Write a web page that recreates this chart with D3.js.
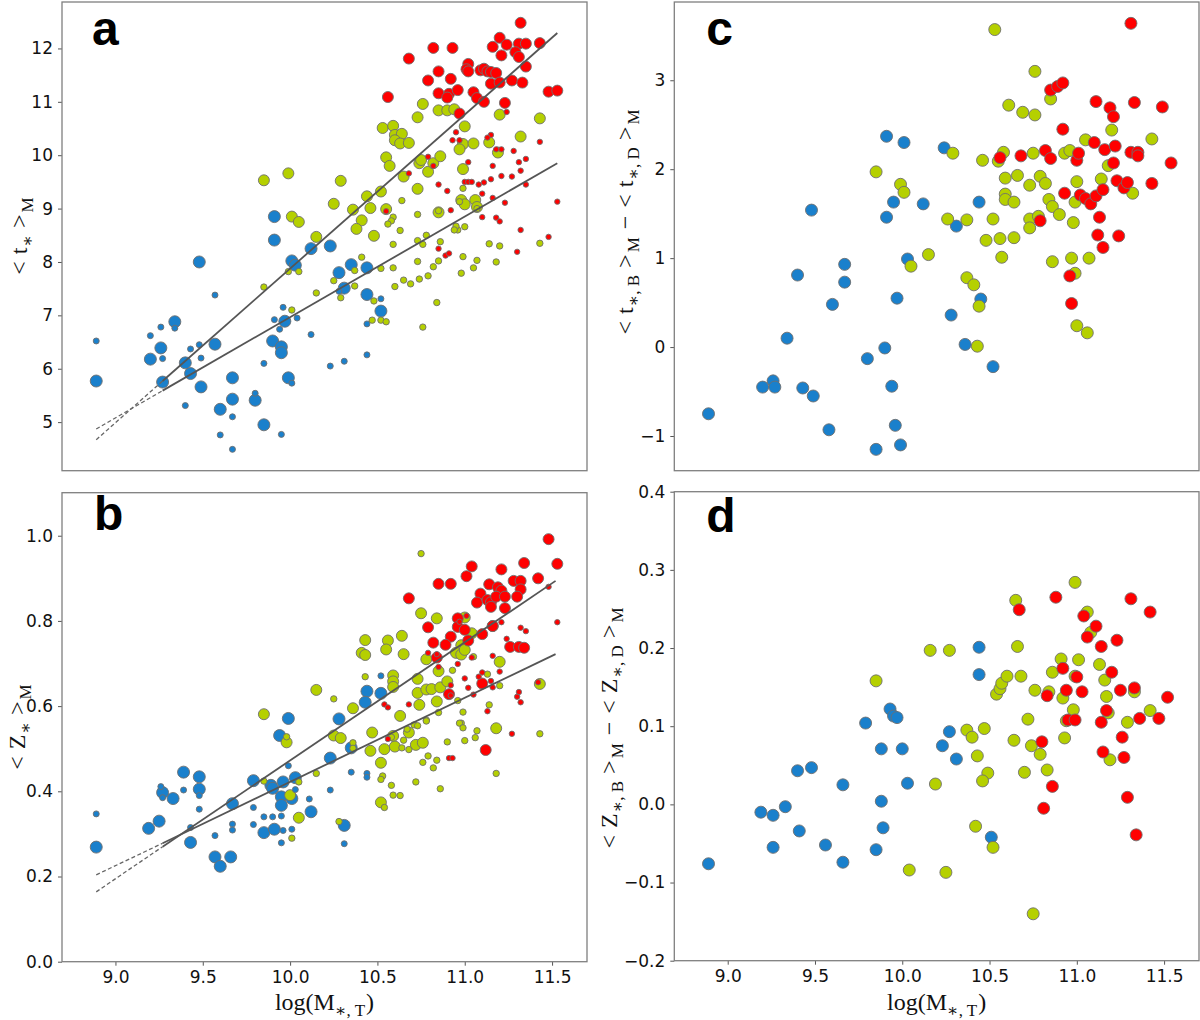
<!DOCTYPE html>
<html>
<head>
<meta charset="utf-8">
<script src="https://cdn.jsdelivr.net/npm/d3@7/dist/d3.min.js"></script>
<style>
body { margin: 0; background: #fff; }
</style>
</head>
<body>
<div id="chart"></div>
<script>

// ---- data: [log M, value] ----

// panel a, bulge ages (big markers)
var ageBulgeBlue = [[8.89,5.77],[9.20,6.18],[9.26,6.39],[9.34,6.88],[9.27,5.75],[9.40,6.11],[9.43,5.91],[9.49,5.66],[9.57,6.46],[9.60,5.24],[9.67,5.83],[9.67,5.43],[9.80,5.41],[9.85,4.95],[9.90,6.52],[9.95,6.41],[9.95,6.30],[9.99,5.83],[9.97,6.89],[9.91,8.41],[9.48,8.00],[10.01,8.02],[10.03,7.94],[10.12,8.25],[10.23,8.30],[10.28,7.80],[10.31,7.51],[10.35,7.95],[10.44,7.89],[10.44,7.39],[10.52,7.08],[9.91,8.85]];
var ageBulgeGreen = [[9.85,9.53],[9.99,9.66],[10.29,9.52],[10.01,8.85],[10.05,8.75],[10.15,8.47],[10.25,9.09],[10.36,8.98],[10.41,8.78],[10.38,8.62],[10.44,9.23],[10.46,9.01],[10.48,8.49],[10.52,9.32],[10.55,8.99],[10.65,9.60],[10.73,9.37],[10.74,9.85],[10.75,9.91],[10.79,9.69],[10.82,9.85],[10.86,9.98],[10.85,8.93],[10.55,9.96],[10.57,9.80],[10.53,10.51],[10.59,10.55],[10.60,10.38],[10.64,10.40],[10.60,10.28],[10.63,10.22],[10.68,10.23],[10.73,10.71],[10.76,10.96],[10.85,10.84],[10.90,10.84],[10.94,10.86],[11.00,10.54],[10.99,10.21],[10.97,10.11],[11.05,10.22],[10.99,9.74],[11.14,10.24],[11.19,10.05],[11.20,10.76],[11.32,10.35],[11.43,10.69],[10.98,9.16],[11.00,9.08],[11.06,9.16],[11.07,9.03]];
var ageBulgeRed = [[11.32,12.48],[11.20,12.20],[11.24,12.07],[11.16,12.03],[11.31,12.09],[11.35,12.09],[11.43,12.10],[10.82,12.01],[10.93,12.01],[10.68,11.81],[11.21,11.87],[11.29,11.93],[11.31,11.84],[11.35,11.66],[11.02,11.71],[11.01,11.61],[11.02,11.57],[11.09,11.59],[11.11,11.62],[11.13,11.57],[11.15,11.56],[11.18,11.54],[10.85,11.57],[10.92,11.43],[10.79,11.40],[11.15,11.34],[11.20,11.36],[11.27,11.40],[11.33,11.36],[10.85,11.16],[10.91,11.15],[10.96,11.22],[10.90,11.08],[11.05,11.18],[11.07,11.07],[11.11,11.00],[11.23,10.98],[10.56,11.09],[10.97,10.78],[11.48,11.19],[11.53,11.21]];

// panel a, disc ages (small markers)
var ageDiscBlue = [[8.89,6.52],[9.20,6.62],[9.26,6.78],[9.34,6.76],[9.27,6.19],[9.43,6.37],[9.48,6.45],[9.49,6.20],[9.57,7.38],[9.67,5.10],[9.60,4.76],[9.67,4.49],[9.40,5.31],[9.80,5.54],[9.85,6.10],[9.95,4.77],[10.01,5.73],[9.96,7.15],[9.91,6.92],[10.04,6.95],[9.94,6.74],[10.12,6.64],[10.23,6.05],[10.31,6.14],[10.44,6.26],[10.44,6.84],[10.52,7.31],[10.28,7.45]];
var ageDiscGreen = [[9.85,7.53],[9.99,7.82],[10.05,7.82],[10.15,7.42],[10.01,7.10],[10.25,7.65],[10.29,7.33],[10.37,7.55],[10.37,7.84],[10.41,8.09],[10.48,7.27],[10.47,6.91],[10.52,6.91],[10.55,6.88],[10.52,7.88],[10.59,7.89],[10.59,8.33],[10.60,7.54],[10.65,7.66],[10.69,7.59],[10.73,8.40],[10.73,8.01],[10.74,7.68],[10.76,6.78],[10.76,8.33],[10.78,8.50],[10.79,7.74],[10.82,7.91],[10.84,7.24],[10.85,8.02],[10.86,8.38],[10.96,8.60],[10.98,7.79],[10.99,8.10],[11.05,7.89],[11.07,8.03],[11.14,8.34],[11.18,8.00],[11.20,8.30],[11.43,8.35],[10.64,9.15],[10.59,8.84],[10.58,8.77],[10.56,8.71],[10.63,8.59],[10.73,8.89],[10.85,8.96],[10.99,9.38],[10.97,9.13],[10.95,8.67],[11.00,8.66],[10.94,8.60],[11.07,9.00]];
var ageDiscRed = [[11.24,10.81],[10.95,10.43],[11.15,10.38],[10.93,10.28],[10.97,10.28],[11.13,10.33],[11.18,10.11],[11.21,10.11],[11.28,10.08],[11.43,10.25],[11.35,9.93],[11.31,9.87],[11.16,9.80],[11.02,9.87],[10.79,9.97],[10.82,9.80],[10.68,9.66],[10.85,9.45],[11.00,9.50],[11.02,9.50],[11.04,9.50],[11.08,9.45],[11.11,9.49],[11.15,9.55],[11.21,9.61],[11.27,9.60],[11.32,9.71],[11.35,9.45],[10.90,9.33],[10.92,8.97],[11.10,9.28],[11.16,9.20],[11.23,9.11],[11.10,8.84],[11.18,8.83],[11.20,8.76],[11.32,8.60],[11.53,9.13],[11.48,8.47],[10.55,8.95],[10.85,8.25],[10.89,8.12],[10.91,8.16],[11.30,8.19]];

// panel b, bulge metallicities (big markers)
var metBulgeBlue = [[10.44,0.635],[10.52,0.630],[10.43,0.609],[10.28,0.570],[9.99,0.571],[9.94,0.531],[10.35,0.502],[10.23,0.478],[9.79,0.425],[9.96,0.422],[10.03,0.432],[9.89,0.414],[9.90,0.407],[9.67,0.371],[9.95,0.387],[10.01,0.383],[9.95,0.367],[10.12,0.352],[9.85,0.303],[9.91,0.311],[10.31,0.320],[9.39,0.445],[9.48,0.434],[9.48,0.405],[9.33,0.383],[9.27,0.397],[9.25,0.330],[9.19,0.313],[9.43,0.280],[8.89,0.269],[9.57,0.246],[9.60,0.224],[9.66,0.246]];
var metBulgeGreen = [[10.75,0.818],[10.84,0.806],[10.43,0.755],[10.41,0.725],[10.43,0.720],[10.56,0.754],[10.55,0.733],[10.64,0.765],[10.65,0.722],[11.00,0.808],[11.04,0.771],[10.98,0.743],[10.95,0.725],[10.98,0.721],[11.00,0.732],[11.16,0.788],[11.20,0.704],[10.78,0.710],[10.85,0.682],[10.59,0.672],[10.59,0.658],[10.59,0.645],[10.73,0.664],[10.73,0.631],[10.78,0.639],[10.81,0.640],[10.86,0.644],[10.90,0.658],[10.84,0.611],[10.74,0.603],[10.63,0.577],[10.36,0.595],[10.15,0.638],[9.85,0.581],[11.43,0.652],[11.18,0.548],[10.25,0.531],[10.29,0.525],[10.47,0.538],[10.59,0.530],[10.54,0.499],[10.60,0.505],[10.68,0.538],[10.72,0.509],[10.76,0.514],[10.46,0.495],[10.52,0.467],[10.05,0.338],[10.52,0.374],[9.98,0.515],[10.00,0.391]];
var metBulgeRed = [[11.48,0.992],[11.53,0.934],[11.34,0.936],[11.42,0.900],[11.21,0.921],[11.04,0.928],[11.01,0.905],[10.85,0.887],[10.92,0.887],[10.68,0.853],[11.14,0.886],[11.19,0.879],[11.21,0.871],[11.28,0.894],[11.32,0.894],[11.32,0.874],[11.30,0.857],[11.09,0.864],[11.07,0.843],[11.13,0.849],[11.15,0.844],[11.18,0.857],[11.23,0.857],[11.23,0.830],[11.15,0.833],[10.96,0.806],[10.96,0.786],[11.00,0.779],[10.79,0.785],[10.92,0.763],[10.89,0.744],[11.02,0.754],[11.10,0.769],[11.16,0.788],[10.82,0.749],[10.84,0.714],[11.26,0.739],[11.31,0.739],[11.34,0.737],[10.91,0.628],[11.10,0.653],[11.12,0.497]];

// panel b, disc metallicities (small markers)
var metDiscBlue = [[10.52,0.671],[8.89,0.347],[9.26,0.411],[9.27,0.385],[9.39,0.403],[9.48,0.390],[9.48,0.358],[9.43,0.315],[9.57,0.296],[9.67,0.323],[9.67,0.309],[9.79,0.362],[9.79,0.322],[9.85,0.340],[9.90,0.340],[9.95,0.342],[9.96,0.308],[10.01,0.311],[9.95,0.279],[10.03,0.404],[9.99,0.460],[10.11,0.382],[10.23,0.403],[10.31,0.277],[10.35,0.445],[10.44,0.442],[10.44,0.433]];
var metDiscGreen = [[10.75,0.958],[10.43,0.669],[10.25,0.617],[10.93,0.684],[11.05,0.716],[10.96,0.613],[10.99,0.586],[11.14,0.603],[11.20,0.648],[11.13,0.675],[10.78,0.567],[10.85,0.585],[10.98,0.560],[10.71,0.556],[9.98,0.528],[10.36,0.514],[10.36,0.501],[10.53,0.436],[10.52,0.428],[10.64,0.502],[10.65,0.520],[10.68,0.498],[10.73,0.554],[10.78,0.565],[10.76,0.468],[10.72,0.422],[10.79,0.483],[10.82,0.455],[10.84,0.473],[10.86,0.406],[10.90,0.516],[10.97,0.560],[10.99,0.549],[11.00,0.519],[11.06,0.526],[11.07,0.542],[11.18,0.442],[11.43,0.535],[10.67,0.546],[10.58,0.414],[10.59,0.391],[10.63,0.390],[10.54,0.362],[10.28,0.329],[10.15,0.442],[10.01,0.290],[10.05,0.422],[9.85,0.424],[10.58,0.527]];
var metDiscRed = [[11.48,0.880],[11.53,0.797],[11.21,0.797],[11.24,0.758],[11.32,0.784],[11.35,0.776],[11.16,0.718],[11.20,0.681],[11.04,0.714],[10.96,0.699],[11.00,0.665],[11.10,0.679],[11.08,0.669],[11.15,0.659],[11.16,0.644],[11.13,0.588],[11.31,0.633],[11.32,0.609],[11.30,0.622],[11.42,0.656],[10.85,0.692],[10.79,0.725],[10.84,0.722],[10.68,0.604],[10.54,0.604],[10.56,0.597],[10.92,0.649],[10.92,0.625],[11.02,0.643],[11.05,0.627],[11.01,0.812],[10.97,0.798],[10.56,0.523],[10.91,0.478],[10.93,0.478],[11.27,0.535]];

// panel c, bulge minus disc age
var dAgeBlue = [[8.89,-0.75],[9.20,-0.45],[9.26,-0.38],[9.27,-0.45],[9.34,0.10],[9.40,0.81],[9.43,-0.46],[9.48,1.54],[9.49,-0.55],[9.58,-0.93],[9.60,0.48],[9.67,0.73],[9.67,0.93],[9.80,-0.13],[9.85,-1.15],[9.90,-0.01],[9.91,2.37],[9.91,1.46],[9.94,-0.44],[9.95,1.63],[9.96,-0.88],[9.97,0.55],[9.99,-1.10],[10.01,2.30],[10.03,0.99],[10.12,1.61],[10.24,2.24],[10.28,0.36],[10.31,1.36],[10.36,0.03],[10.44,1.63],[10.45,0.54],[10.52,-0.22]];
var dAgeGreen = [[9.85,1.97],[9.99,1.83],[10.01,1.74],[10.05,0.91],[10.15,1.04],[10.26,1.44],[10.29,2.18],[10.37,1.43],[10.37,0.78],[10.41,0.70],[10.44,0.46],[10.43,0.01],[10.46,2.10],[10.48,1.20],[10.53,3.57],[10.52,1.44],[10.55,2.09],[10.56,1.22],[10.57,1.01],[10.58,2.19],[10.59,1.90],[10.59,1.72],[10.59,1.66],[10.61,2.72],[10.64,1.63],[10.64,1.23],[10.66,1.93],[10.69,2.64],[10.73,1.82],[10.73,1.44],[10.73,1.34],[10.75,2.18],[10.76,3.10],[10.76,2.61],[10.79,1.92],[10.78,1.47],[10.82,1.84],[10.84,1.66],[10.85,2.79],[10.86,1.58],[10.86,0.96],[10.90,1.49],[10.93,2.18],[10.96,2.21],[10.97,1.00],[10.98,1.40],[10.99,1.63],[10.99,0.83],[11.00,0.24],[11.00,1.86],[11.05,2.33],[11.06,0.16],[11.07,1.00],[11.14,1.89],[11.18,2.04],[11.20,2.44],[11.32,1.73],[11.43,2.34]];
var dAgeRed = [[11.31,3.64],[10.56,2.13],[10.68,2.15],[10.79,1.42],[10.82,2.21],[10.85,2.89],[10.85,2.12],[10.89,2.93],[10.92,2.97],[10.92,2.45],[10.93,1.73],[10.96,0.80],[10.97,0.49],[11.00,2.10],[11.01,2.18],[11.02,1.71],[11.05,1.67],[11.08,1.61],[11.10,2.30],[11.11,2.76],[11.11,1.70],[11.12,1.26],[11.13,1.46],[11.15,1.12],[11.15,1.77],[11.16,2.22],[11.19,2.69],[11.21,2.59],[11.21,2.07],[11.22,2.26],[11.23,1.87],[11.24,1.25],[11.27,1.79],[11.29,1.85],[11.31,2.19],[11.33,2.75],[11.35,2.19],[11.35,2.15],[11.43,1.84],[11.49,2.70],[11.54,2.07]];

// panel d, bulge minus disc metallicity
var dMetBlue = [[8.89,-0.076],[9.19,-0.010],[9.26,-0.014],[9.33,-0.003],[9.26,-0.055],[9.41,-0.034],[9.40,0.043],[9.48,0.047],[9.56,-0.052],[9.66,0.025],[9.66,-0.074],[9.79,0.104],[9.85,-0.058],[9.88,0.071],[9.89,-0.030],[9.93,0.122],[9.95,0.113],[9.97,0.111],[10.00,0.071],[10.03,0.027],[9.88,0.004],[10.23,0.075],[10.27,0.093],[10.31,0.058],[10.44,0.201],[10.44,0.166],[10.51,-0.042]];
var dMetGreen = [[9.85,0.158],[10.16,0.197],[10.27,0.197],[10.19,0.026],[10.04,-0.084],[10.25,-0.087],[10.37,0.095],[10.40,0.086],[10.47,0.097],[10.43,0.062],[10.42,-0.028],[10.49,0.040],[10.46,0.030],[10.52,-0.055],[10.54,0.141],[10.56,0.148],[10.57,0.155],[10.60,0.164],[10.65,0.261],[10.66,0.202],[10.68,0.164],[10.70,0.041],[10.72,0.109],[10.74,0.075],[10.75,-0.140],[10.76,0.146],[10.83,0.044],[10.84,0.144],[10.86,0.169],[10.91,0.186],[10.92,0.136],[10.93,0.085],[10.94,0.107],[10.99,0.284],[10.98,0.121],[10.99,0.164],[11.01,0.185],[11.06,0.246],[11.08,0.220],[11.13,0.179],[11.16,0.159],[11.17,0.138],[11.18,0.117],[11.19,0.057],[11.29,0.105],[11.33,0.144],[11.42,0.120],[10.79,0.064],[10.64,0.082]];
var dMetRed = [[10.67,0.249],[10.88,0.265],[10.83,0.139],[10.80,0.080],[10.81,-0.005],[10.92,0.174],[10.94,0.146],[10.95,0.108],[10.99,0.108],[11.00,0.163],[11.03,0.144],[11.04,0.241],[11.06,0.214],[11.11,0.228],[11.14,0.202],[11.14,0.105],[11.15,0.067],[11.17,0.120],[11.20,0.169],[11.23,0.210],[11.25,0.146],[11.26,0.086],[11.27,0.060],[11.29,0.009],[11.31,0.263],[11.33,0.149],[11.34,-0.039],[11.36,0.110],[11.42,0.246],[11.47,0.110],[11.52,0.137],[10.86,0.023]];

// fitted relations: [start of dashed part, start of solid part, end]
var ageFitSteep = [[8.89,4.67],[9.27,5.77],[11.53,12.29]];
var ageFitFlat = [[8.89,4.87],[9.27,5.59],[11.53,9.85]];
var metFitSteep = [[8.89,0.164],[9.27,0.270],[11.52,0.894]];
var metFitFlat = [[8.89,0.204],[9.27,0.278],[11.52,0.722]];

var xTicks = [9.0, 9.5, 10.0, 10.5, 11.0, 11.5];
var ageTicks = [5, 6, 7, 8, 9, 10, 11, 12];
var metTicks = [0.0, 0.2, 0.4, 0.6, 0.8, 1.0];
var dAgeTicks = [-1, 0, 1, 2, 3];
var dMetTicks = [-0.2, -0.1, 0.0, 0.1, 0.2, 0.3, 0.4];

// ---- drawing ----

var colBlue = "#1a80cc", colGreen = "#b5d000", colRed = "#ff0000";
var edge = "#6e6e6e";
var xDomain = [8.694, 11.70];

var svg = d3.select("#chart").append("svg")
    .attr("width", 1200)
    .attr("height", 1020)
    .style("background", "#fff");

function makePanel(o) {
    var p = {};
    p.x = d3.scaleLinear().domain(xDomain).range([o.left, o.right]);
    p.y = d3.scaleLinear().domain(o.yDomain).range([o.bottom, o.top]);
    p.g = svg.append("g");

    // y axis
    var ya = p.g.append("g")
        .attr("transform", "translate(" + o.left + ",0)")
        .call(d3.axisLeft(p.y).tickValues(o.yTicks).tickFormat(o.yFormat).tickSize(4).tickPadding(5));
    ya.select(".domain").remove();

    if (o.showX) {
        var xa = p.g.append("g")
            .attr("transform", "translate(0," + o.bottom + ")")
            .call(d3.axisBottom(p.x).tickValues(xTicks).tickFormat(d3.format(".1f")).tickSize(4).tickPadding(5));
        xa.select(".domain").remove();
        p.g.append("text")
            .attr("x", (o.left + o.right) / 2)
            .attr("y", 1010)
            .attr("text-anchor", "middle")
            .call(mathText, [["log(M", 0, 0], ["\u2217, T", 1, 0], [")", 0, 1]]);
    }

    p.g.selectAll(".tick line").attr("stroke", "#555");
    p.g.selectAll(".tick text")
        .attr("fill", "#111")
        .style("font-family", "'DejaVu Sans', sans-serif")
        .style("font-size", "17px");

    p.plot = p.g.append("g");

    // frame
    p.g.append("rect")
        .attr("x", o.left).attr("y", o.top)
        .attr("width", o.right - o.left).attr("height", o.bottom - o.top)
        .attr("fill", "none").attr("stroke", "#7f7f7f").attr("stroke-width", 1.3);

    // panel letter
    p.g.append("text")
        .attr("x", o.left + o.letterDx)
        .attr("y", o.letterY)
        .style("font-family", "'Liberation Sans', sans-serif")
        .style("font-weight", "bold")
        .style("font-size", "48px")
        .text(o.letter);

    // y label
    p.g.append("text")
        .attr("transform", "translate(" + o.labelX + "," + o.labelY + ") rotate(-90)")
        .attr("text-anchor", "middle")
        .call(mathText, o.ylabel);

    return p;
}

// parts: [text, is subscript, gap before (px)]
function mathText(t, parts) {
    t.style("font-family", "'Liberation Serif', 'DejaVu Serif', serif")
        .style("font-size", "24px")
        .attr("fill", "#111");
    var sub = false;
    parts.forEach(function(part) {
        var s = t.append("tspan").text(part[0]);
        if (part[2]) s.attr("dx", part[2]);
        if (part[1]) {
            s.style("font-size", "17px");
            if (!sub) { s.attr("dy", 6); sub = true; }
        } else if (sub) {
            s.attr("dy", -6); sub = false;
        }
    });
}

function dots(p, data, color, r) {
    p.plot.selectAll(null)
        .data(data)
        .enter().append("circle")
        .attr("cx", function(d) { return p.x(d[0]); })
        .attr("cy", function(d) { return p.y(d[1]); })
        .attr("r", r)
        .attr("fill", color)
        .attr("stroke", edge)
        .attr("stroke-width", 0.9);
}

function fit(p, pts) {
    p.plot.append("line")
        .attr("x1", p.x(pts[0][0])).attr("y1", p.y(pts[0][1]))
        .attr("x2", p.x(pts[1][0])).attr("y2", p.y(pts[1][1]))
        .attr("stroke", "#666").attr("stroke-width", 1.3)
        .attr("stroke-dasharray", "4,2.5");
    p.plot.append("line")
        .attr("x1", p.x(pts[1][0])).attr("y1", p.y(pts[1][1]))
        .attr("x2", p.x(pts[2][0])).attr("y2", p.y(pts[2][1]))
        .attr("stroke", "#555").attr("stroke-width", 1.8);
}

var fmt1 = d3.format(".1f");

var labelAge = [["<", 0, 0], ["t", 0, 7], ["\u2217", 1, 1], [">", 0, 7], ["M", 1, 2]];
var labelMet = [["<", 0, 0], ["Z", 0, 7], ["\u2217", 1, 1], [">", 0, 7], ["M", 1, 2]];
var labelDAge = [["<", 0, 0], ["t", 0, 7], ["\u2217, B", 1, 1], [">", 0, 7], ["M", 1, 2],
    ["\u2212", 0, 8], ["<", 0, 8], ["t", 0, 7], ["\u2217, D", 1, 1], [">", 0, 7], ["M", 1, 2]];
var labelDMet = [["<", 0, 0], ["Z", 0, 7], ["\u2217, B", 1, 1], [">", 0, 7], ["M", 1, 2],
    ["\u2212", 0, 8], ["<", 0, 8], ["Z", 0, 7], ["\u2217, D", 1, 1], [">", 0, 7], ["M", 1, 2]];

var pa = makePanel({left: 62, right: 587, top: 2, bottom: 470.7, yDomain: [4.09, 12.87],
    yTicks: ageTicks, yFormat: d3.format("d"), showX: false, letter: "a", letterDx: 30, letterY: 45,
    labelX: 27, labelY: 236, ylabel: labelAge});
var pb = makePanel({left: 62, right: 587, top: 492.7, bottom: 961.7, yDomain: [0, 1.101],
    yTicks: metTicks, yFormat: fmt1, showX: true, letter: "b", letterDx: 32, letterY: 530,
    labelX: 25, labelY: 727, ylabel: labelMet});
var pc = makePanel({left: 674.3, right: 1199, top: 2, bottom: 470.7, yDomain: [-1.39, 3.88],
    yTicks: dAgeTicks, yFormat: d3.format("d"), showX: false, letter: "c", letterDx: 32, letterY: 45,
    labelX: 633, labelY: 222, ylabel: labelDAge});
var pd = makePanel({left: 674.3, right: 1199, top: 491.7, bottom: 960.7, yDomain: [-0.2, 0.4],
    yTicks: dMetTicks, yFormat: fmt1, showX: true, letter: "d", letterDx: 32, letterY: 532,
    labelX: 617, labelY: 728, ylabel: labelDMet});

// panel a
dots(pa, ageBulgeBlue, colBlue, 6);
dots(pa, ageBulgeGreen, colGreen, 5.5);
dots(pa, ageBulgeRed, colRed, 5.5);
dots(pa, ageDiscBlue, colBlue, 3);
dots(pa, ageDiscGreen, colGreen, 3.2);
dots(pa, ageDiscRed, colRed, 2.7);
fit(pa, ageFitSteep);
fit(pa, ageFitFlat);

// panel b
dots(pb, metBulgeBlue, colBlue, 6);
dots(pb, metBulgeGreen, colGreen, 5.5);
dots(pb, metBulgeRed, colRed, 5.5);
dots(pb, metDiscBlue, colBlue, 3);
dots(pb, metDiscGreen, colGreen, 3.2);
dots(pb, metDiscRed, colRed, 2.7);
fit(pb, metFitSteep);
fit(pb, metFitFlat);

// panel c
dots(pc, dAgeBlue, colBlue, 6);
dots(pc, dAgeGreen, colGreen, 6);
dots(pc, dAgeRed, colRed, 6);

// panel d
dots(pd, dMetBlue, colBlue, 6);
dots(pd, dMetGreen, colGreen, 6);
dots(pd, dMetRed, colRed, 6);

</script>
</body>
</html>
